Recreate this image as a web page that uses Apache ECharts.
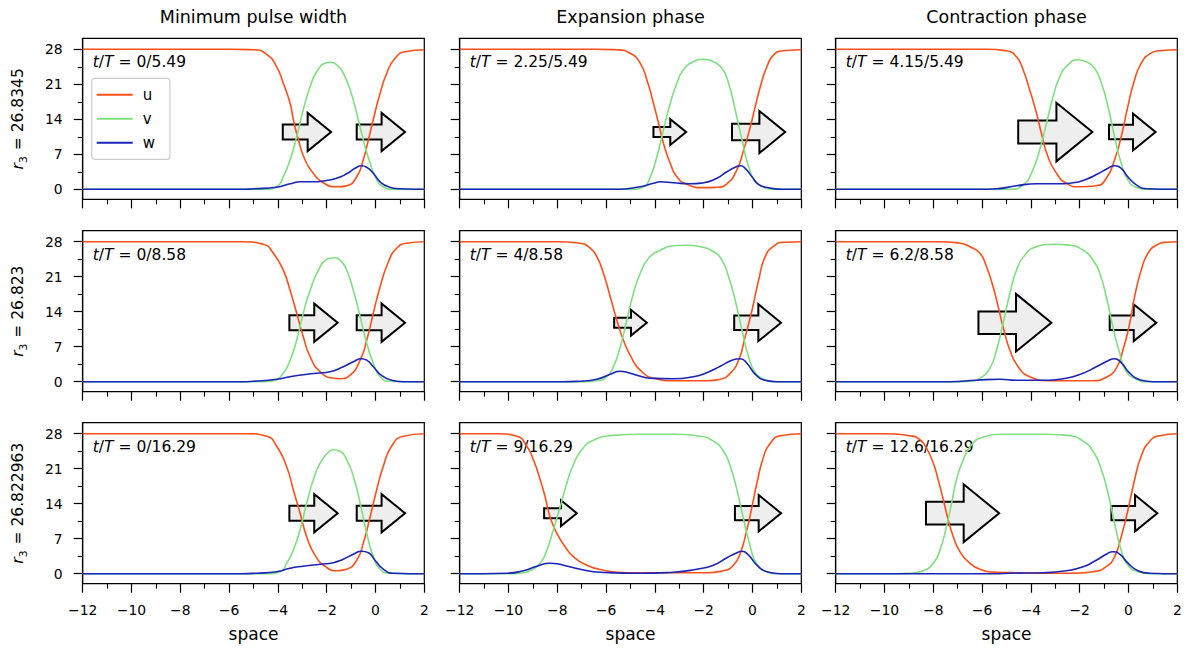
<!DOCTYPE html>
<html>
<head>
<meta charset="utf-8">
<script src="https://cdn.jsdelivr.net/npm/echarts@6/dist/echarts.min.js"></script>
<style>
  html, body { margin: 0; padding: 0; background: #ffffff; }
  #chart { width: 1193px; height: 652px; }
</style>
</head>
<body>
<div id="chart"></div>
<script>
// ---- Profiles of u, v, w along space, one panel per (r3, phase) ----
const colTitles = ['Minimum pulse width', 'Expansion phase', 'Contraction phase'];
const rowR3 = ['26.8345', '26.823', '26.822963'];
const timeLabels = ['0/5.49', '2.25/5.49', '4.15/5.49', '0/8.58', '4/8.58', '6.2/8.58', '0/16.29', '9/16.29', '12.6/16.29'];
const xTicks = [-12, 2, 2];            // min, max, step of the space axis
const yMajorTicks = [0, 7, 14, 21, 28];
const yMinorTicks = [3.5, 10.5, 17.5, 24.5];

// Row 1: r3 = 26.8345
const u11 = [[-12,28],[-6,28],[-5,27.9],[-4.46,27.0],[-4.05,24.5],[-3.78,21.2],[-3.5,17.2],[-3.37,14],[-3.16,9.9],[-2.89,5.9],[-2.55,3.2],[-2.14,1.3],[-1.59,0.5],[-1.18,0.7],[-0.77,2.5],[-0.5,5.9],[-0.29,9.9],[-0.09,14],[0.19,19.2],[0.46,23.2],[0.8,26.2],[1.21,27.5],[2,27.9]];
const v11 = [[-12,0],[-4.5,0],[-4.05,0.5],[-3.78,2.5],[-3.5,5.9],[-3.23,10.5],[-2.96,15.9],[-2.68,20.5],[-2.41,23.5],[-2.07,25.2],[-1.86,25.4],[-1.59,24.9],[-1.32,23.2],[-1.04,19.9],[-0.77,15.2],[-0.5,9.9],[-0.22,5.2],[0.05,1.9],[0.32,0.5],[0.73,0],[2,0]];
const w11 = [[-12,0],[-5.5,0],[-5,0.1],[-4.05,0.4],[-3.5,1.1],[-3.09,1.5],[-2.55,1.5],[-2.07,1.7],[-1.59,2.2],[-1.18,3.1],[-0.84,4.2],[-0.57,4.7],[-0.36,4.4],[-0.09,3.2],[0.19,1.5],[0.53,0.5],[1.0,0.1],[2,0]];

const u12 = [[-12,28],[-6.5,28],[-5.56,27.9],[-5.01,27.2],[-4.6,25.2],[-4.33,21.9],[-4.06,17.2],[-3.85,13.2],[-3.65,9.2],[-3.37,5.2],[-3.1,2.5],[-2.69,1.0],[-2.0,0.33],[-1.46,0.4],[-1.05,1.1],[-0.64,3.9],[-0.36,7.9],[-0.09,12.5],[0.11,16.5],[0.32,20.5],[0.59,24.5],[0.87,26.9],[1.28,27.7],[2,27.9]];
const v12 = [[-12,0],[-5,0],[-4.47,0.5],[-4.19,2.5],[-3.92,6.5],[-3.65,11.9],[-3.37,17.2],[-3.1,21.2],[-2.83,23.9],[-2.42,25.5],[-2.0,26.0],[-1.6,25.5],[-1.25,24.2],[-0.98,21.2],[-0.71,15.9],[-0.43,9.9],[-0.16,4.5],[0.11,1.5],[0.46,0.4],[0.87,0],[2,0]];
const w12 = [[-12,0],[-5.6,0],[-4.6,0.5],[-4.06,1.2],[-3.78,1.5],[-3.24,1.3],[-2.55,1.1],[-2.0,1.3],[-1.46,2.2],[-1.05,3.5],[-0.71,4.4],[-0.5,4.7],[-0.3,4.2],[-0.02,2.5],[0.25,1.0],[0.66,0.3],[1.28,0],[2,0]];

const u13 = [[-12,28],[-5.8,28],[-5.0,27.7],[-4.59,26.5],[-4.32,23.9],[-4.05,19.9],[-3.77,15.2],[-3.57,11.2],[-3.3,6.5],[-2.95,3.2],[-2.55,1.2],[-2.0,0.5],[-1.32,0.7],[-0.91,2.2],[-0.57,5.9],[-0.3,10.5],[-0.03,16.5],[0.25,21.9],[0.52,25.2],[0.87,27.1],[1.27,27.7],[2,27.9]];
const v13 = [[-12,0],[-4.8,0],[-4.32,0.9],[-3.98,3.2],[-3.64,7.9],[-3.36,13.2],[-3.09,18.5],[-2.82,22.5],[-2.48,24.9],[-2.07,25.9],[-1.73,25.5],[-1.39,24.2],[-1.11,21.2],[-0.84,16.5],[-0.57,10.5],[-0.3,5.2],[-0.03,1.9],[0.32,0.4],[0.73,0],[2,0]];
const w13 = [[-12,0],[-6,0],[-5.41,0.1],[-4.59,0.7],[-3.77,1.1],[-2.95,1.1],[-2.27,1.3],[-1.73,2.0],[-1.25,3.1],[-0.84,4.2],[-0.57,4.7],[-0.3,4.2],[-0.03,2.5],[0.32,0.9],[0.73,0.1],[2,0]];

// Row 2: r3 = 26.823
const u21 = [[-12,28],[-5.5,28],[-4.6,27.5],[-4.19,25.7],[-3.78,22.3],[-3.5,18.3],[-3.23,13.7],[-2.96,9.0],[-2.68,5.0],[-2.27,2.0],[-1.73,0.7],[-1.45,0.6],[-1.04,1.3],[-0.63,4.3],[-0.36,8.3],[-0.09,13.7],[0.19,19.0],[0.53,24.0],[0.87,26.7],[1.28,27.7],[2,28]];
const v21 = [[-12,0],[-4.6,0],[-4.19,0.2],[-3.78,1.7],[-3.5,4.3],[-3.23,8.3],[-2.96,13.7],[-2.68,18.3],[-2.34,22.3],[-2.0,24.5],[-1.73,24.8],[-1.45,24.3],[-1.18,22.3],[-0.91,18.3],[-0.63,13],[-0.36,7.7],[-0.09,3.7],[0.19,1.0],[0.6,0.1],[2,0]];
const w21 = [[-12,0],[-5.5,0],[-5.0,0.1],[-4.05,0.5],[-3.5,1.0],[-2.96,1.4],[-2.41,1.7],[-1.86,2.0],[-1.32,3.0],[-0.91,4.0],[-0.57,4.6],[-0.36,4.3],[-0.09,3.0],[0.26,1.2],[0.67,0.3],[1.14,0],[2,0]];

const u22 = [[-12,28],[-8,28],[-7.06,27.7],[-6.65,26.7],[-6.38,25],[-6.11,21.7],[-5.83,17],[-5.56,12.3],[-5.29,8.3],[-4.95,4.7],[-4.6,2.3],[-4.06,0.7],[-3.24,0.2],[-1.87,0.2],[-1.32,0.5],[-0.91,1.7],[-0.57,4.3],[-0.3,9.0],[-0.02,14.3],[0.25,20.3],[0.52,25],[0.87,27.1],[1.28,27.9],[2,28]];
const v22 = [[-12,0],[-7,0],[-6.38,0.2],[-5.97,1.0],[-5.7,3.0],[-5.42,7.0],[-5.15,12.3],[-4.88,17.7],[-4.6,21.7],[-4.26,24.7],[-3.78,26.3],[-3.24,27.2],[-2.69,27.3],[-2.14,27.0],[-1.6,26],[-1.25,24.3],[-0.98,21],[-0.71,16.3],[-0.43,10.3],[-0.16,5],[0.11,1.8],[0.46,0.5],[0.87,0],[2,0]];
const w22 = [[-12,0],[-7.8,0],[-7.06,0.1],[-6.38,0.5],[-5.83,1.5],[-5.42,2.1],[-5.15,1.9],[-4.74,1.3],[-4.19,0.7],[-3.24,0.6],[-2.42,1.0],[-1.87,1.8],[-1.32,3.1],[-0.84,4.3],[-0.5,4.6],[-0.23,3.7],[0.11,1.5],[0.52,0.3],[1.0,0],[2,0]];

const u23 = [[-12,28],[-7.8,28],[-6.91,27.7],[-6.5,27],[-6.09,25.7],[-5.82,23],[-5.55,19],[-5.34,15],[-5.14,11],[-4.86,6.3],[-4.52,3.0],[-4.05,1.0],[-3.23,0.2],[-1.45,0.2],[-0.91,0.9],[-0.5,2.7],[-0.23,6.3],[0.05,11.7],[0.25,17],[0.52,22.3],[0.8,25.7],[1.14,27.3],[1.55,27.9],[2,28]];
const v23 = [[-12,0],[-7,0],[-6.5,0.1],[-6.09,0.7],[-5.68,2.7],[-5.41,6.3],[-5.14,11.7],[-4.86,17.7],[-4.59,22.3],[-4.25,25.3],[-3.77,27],[-3.09,27.5],[-2.41,27.3],[-1.86,26.3],[-1.45,24.3],[-1.18,21.7],[-0.91,17],[-0.64,11],[-0.36,5.7],[-0.09,2.0],[0.32,0.5],[0.73,0],[2,0]];
const w23 = [[-12,0],[-7.32,0],[-6.23,0.3],[-5.27,0.5],[-4.59,0.3],[-3.5,0.3],[-2.55,0.7],[-1.86,1.7],[-1.32,3.0],[-0.84,4.2],[-0.57,4.6],[-0.3,3.8],[0.05,1.7],[0.46,0.4],[1.0,0],[2,0]];

// Row 3: r3 = 26.822963
const u31 = [[-12,28],[-5.3,28],[-4.46,27.5],[-4.05,25.5],[-3.64,21.4],[-3.37,16.8],[-3.09,12.1],[-2.82,7.4],[-2.48,3.7],[-2.07,1.5],[-1.59,0.6],[-1.18,0.9],[-0.77,2.7],[-0.5,6.1],[-0.22,11.4],[0.05,16.8],[0.32,21.5],[0.66,25.5],[1.14,27.5],[2,28]];
const v31 = [[-12,0],[-4.4,0],[-3.91,0.4],[-3.64,2.1],[-3.37,4.7],[-3.09,8.8],[-2.82,14.1],[-2.55,18.8],[-2.27,22.1],[-1.93,24.3],[-1.73,24.8],[-1.45,24.5],[-1.18,22.8],[-0.91,19.5],[-0.63,14.1],[-0.36,8.1],[-0.09,3.4],[0.19,0.9],[0.6,0.1],[2,0]];
const w31 = [[-12,0],[-5.5,0],[-4.87,0.1],[-4.05,0.4],[-3.5,1.1],[-2.96,1.5],[-2.27,1.9],[-1.73,2.2],[-1.32,2.9],[-0.91,3.9],[-0.57,4.5],[-0.29,4.2],[-0.02,2.7],[0.32,0.9],[0.73,0.1],[2,0]];

const u32 = [[-12,28],[-10.5,28],[-9.66,27.5],[-9.25,25.5],[-8.98,22.8],[-8.7,18.8],[-8.5,15.4],[-8.3,11.4],[-8.02,8.1],[-7.68,5.4],[-7.34,3.4],[-6.79,1.7],[-6.11,0.7],[-5.15,0.2],[-1.87,0.2],[-1.19,0.6],[-0.78,1.7],[-0.5,4.1],[-0.23,8.8],[-0.02,13.4],[0.18,18.1],[0.46,23.5],[0.73,26.1],[1.14,27.6],[2,28]];
const v32 = [[-12,0],[-10,0],[-9.53,0.1],[-9.12,0.6],[-8.7,2.1],[-8.43,4.7],[-8.16,8.8],[-7.88,13.4],[-7.61,18.1],[-7.34,21.8],[-7.0,24.8],[-6.52,26.7],[-5.83,27.6],[-4.6,27.9],[-3.24,27.9],[-2.14,27.5],[-1.6,26.5],[-1.19,24.5],[-0.91,21.5],[-0.64,16.8],[-0.36,10.8],[-0.09,5.4],[0.18,1.9],[0.59,0.4],[1.0,0],[2,0]];
const w32 = [[-12,0],[-10.07,0.1],[-9.39,0.6],[-8.84,1.5],[-8.3,2.1],[-7.75,1.7],[-7.06,0.9],[-6.24,0.3],[-4.6,0.1],[-3.24,0.3],[-2.28,0.9],[-1.6,1.7],[-1.05,3.2],[-0.64,4.2],[-0.43,4.5],[-0.16,3.7],[0.18,1.7],[0.59,0.4],[1.14,0],[2,0]];

const u33 = [[-12,28],[-10,28],[-8.96,27.6],[-8.55,26.8],[-8.28,25.1],[-8.0,22.1],[-7.8,18.8],[-7.59,14.8],[-7.39,10.8],[-7.18,7.4],[-6.91,4.4],[-6.57,2.4],[-6.09,0.9],[-5.41,0.3],[-2.41,0.1],[-1.45,0.4],[-0.91,1.4],[-0.57,3.4],[-0.3,7.4],[-0.02,12.8],[0.25,18.8],[0.52,23.5],[0.87,26.5],[1.27,27.6],[2,28]];
const v33 = [[-12,0],[-9.5,0],[-8.96,0.1],[-8.41,0.6],[-8.0,2.1],[-7.73,4.7],[-7.46,9.4],[-7.25,14.1],[-7.05,18.8],[-6.77,22.8],[-6.43,25.8],[-5.96,27.3],[-5.14,27.9],[-3.5,27.9],[-2.41,27.6],[-1.86,26.5],[-1.45,24.5],[-1.11,20.8],[-0.84,16.1],[-0.57,10.1],[-0.3,4.7],[-0.02,1.7],[0.39,0.4],[0.87,0],[2,0]];
const w33 = [[-12,0],[-5.5,0],[-4.86,0.1],[-3.5,0.2],[-2.55,0.6],[-1.86,1.4],[-1.32,2.7],[-0.91,3.9],[-0.64,4.4],[-0.36,3.9],[-0.02,2.1],[0.39,0.6],[0.87,0.1],[2,0]];

// Front-speed arrows: tail position and length (space units) for each panel, and level per row
const arrowTail = [[-3.8,-0.77],[-4.06,-0.84],[-4.52,-0.8],[-3.53,-0.77],[-5.67,-0.75],[-6.15,-0.77],[-3.53,-0.77],[-8.54,-0.72],[-8.3,-0.7]];
const arrowLen  = [[1.98,1.98],[1.34,2.18],[3.04,1.91],[1.98,1.98],[1.34,1.92],[2.99,1.91],[1.98,1.98],[1.34,1.89],[3.0,1.88]];
const arrowLevel = [11.45, 11.8, 12.1];

const uSets = [u11, u12, u13, u21, u22, u23, u31, u32, u33];
const vSets = [v11, v12, v13, v21, v22, v23, v31, v32, v33];
const wSets = [w11, w12, w13, w21, w22, w23, w31, w32, w33];

// ---- Layout and style ----
const FONT = 'DejaVu Sans';
const colLeft = [82.7, 459.7, 835.7];
const plotW = 341.6;
const rowTop = [38.3, 230.7, 422.7];
const plotH = 161;
const Y_MIN = -2, Y_MAX = 30.2;
const COLORS = { u: '#ff4f17', v: '#7ee07e', w: '#1a24b8' };
const black = '#000000';

const minusFmt = v => (v < 0 ? '\u2212' + Math.abs(v) : String(v));

const grids = [], xAxes = [], yAxes = [], series = [], graphics = [];

for (let r = 0; r < 3; r++) {
  for (let c = 0; c < 3; c++) {
    const i = r * 3 + c;
    grids.push({
      left: colLeft[c], top: rowTop[r], width: plotW, height: plotH,
      show: true, borderColor: black, borderWidth: 1.2, backgroundColor: 'transparent',
      containLabel: false, outerBoundsMode: 'none'
    });
    xAxes.push({
      gridIndex: i, type: 'value', min: xTicks[0], max: xTicks[1], interval: xTicks[2],
      axisLine: { show: true, onZero: false, lineStyle: { color: black, width: 1.2 } },
      axisTick: { show: true, length: 9, lineStyle: { color: black, width: 1.2 } },
      minorTick: { show: true, splitNumber: 2, length: 5, lineStyle: { color: black, width: 1.1 } },
      splitLine: { show: false }, minorSplitLine: { show: false },
      axisLabel: { show: r === 2, color: black, fontSize: 13.9, fontFamily: FONT, margin: 19,
        formatter: minusFmt, showMinLabel: true, showMaxLabel: true, hideOverlap: false },
      name: r === 2 ? 'space' : '', nameLocation: 'middle', nameGap: 42,
      nameTextStyle: { color: black, fontSize: 17, fontFamily: FONT }
    });
    // main y axis with labelled ticks
    yAxes.push({
      gridIndex: i, type: 'value', min: Y_MIN, max: Y_MAX, position: 'left',
      axisLine: { show: true, onZero: false, lineStyle: { color: black, width: 1.2 } },
      axisTick: { show: true, length: 9, customValues: yMajorTicks, lineStyle: { color: black, width: 1.2 } },
      splitLine: { show: false },
      axisLabel: { show: c === 0, customValues: yMajorTicks, color: black, fontSize: 13.9, fontFamily: FONT, margin: 20 },
      name: c === 0 ? `{i|r}{s|3} = ${rowR3[r]}` : '',
      nameLocation: 'middle', nameRotate: 90, nameGap: 57,
      nameTextStyle: {
        color: black, fontSize: 15.5, fontFamily: FONT,
        rich: {
          i: { fontStyle: 'italic', fontSize: 15.5, fontFamily: FONT, color: black },
          s: { fontSize: 10.8, fontFamily: FONT, color: black, verticalAlign: 'bottom', padding: [0, 1, -3, 0] }
        }
      }
    });
    // companion y axis carrying only the minor ticks
    yAxes.push({
      gridIndex: i, type: 'value', min: Y_MIN, max: Y_MAX, position: 'left', offset: 0,
      axisLine: { show: false, onZero: false },
      axisTick: { show: true, length: 5, customValues: yMinorTicks, lineStyle: { color: black, width: 1.1 } },
      axisLabel: { show: false }, splitLine: { show: false }
    });

    // arrows (drawn under the profiles)
    series.push({
      type: 'custom', xAxisIndex: i, yAxisIndex: 2 * i, z: 2, silent: true,
      data: arrowTail[i].map((x0, k) => [x0, arrowLevel[r], arrowLen[i][k]]),
      renderItem: function (params, api) {
        const x0 = api.value(0), y = api.value(1), len = api.value(2);
        const a = api.coord([x0, y]);
        const b = api.coord([x0 + len, y]);
        const L = b[0] - a[0];
        const tw = 0.155 * L, hw = 0.395 * L, hl = 0.485 * L;
        const hx = b[0] - hl;
        const pts = [
          [a[0], a[1] - tw], [hx, a[1] - tw], [hx, a[1] - hw], [b[0], a[1]],
          [hx, a[1] + hw], [hx, a[1] + tw], [a[0], a[1] + tw]
        ];
        return {
          type: 'polygon', shape: { points: pts },
          style: { fill: '#eeeeee', stroke: black, lineWidth: 2, lineJoin: 'miter' }
        };
      }
    });

    [['u', uSets[i]], ['v', vSets[i]], ['w', wSets[i]]].forEach(([name, data], k) => {
      series.push({
        type: 'line', name: name, xAxisIndex: i, yAxisIndex: 2 * i, data: data,
        showSymbol: false, symbol: 'none', smooth: 0.55,
        z: 3 + k, silent: true,
        lineStyle: { color: COLORS[name], width: 1.6 },
        itemStyle: { color: COLORS[name] }
      });
    });

    // time stamp inside each panel
    graphics.push({
      type: 'text', x: colLeft[c] + 10, y: rowTop[r] + 24,
      style: {
        text: `{i|t}/{i|T}{e|=}${timeLabels[i]}`,
        fontSize: 15.5, fontFamily: FONT, fill: black, align: 'left', verticalAlign: 'middle',
        rich: {
          i: { fontStyle: 'italic', fontSize: 15.5, fontFamily: FONT, fill: black },
          e: { fontSize: 15.5, fontFamily: FONT, fill: black, padding: [0, 5, 0, 5] }
        }
      }
    });
  }
}

colTitles.forEach((t, c) => {
  graphics.push({
    type: 'text', x: colLeft[c] + plotW / 2, y: 17,
    style: { text: t, fontSize: 17.5, fontFamily: FONT, fill: black, align: 'center', verticalAlign: 'middle' }
  });
});

const chart = echarts.init(document.getElementById('chart'), null, { renderer: 'svg' });
chart.setOption({
  animation: false,
  backgroundColor: '#ffffff',
  grid: grids,
  xAxis: xAxes,
  yAxis: yAxes,
  legend: {
    data: ['u', 'v', 'w'], orient: 'vertical', left: 91.7, top: 78.3,
    icon: 'rect', itemWidth: 36, itemHeight: 2, itemGap: 9,
    padding: [9, 15, 9, 5],
    borderColor: '#cccccc', borderWidth: 1.2, borderRadius: 3,
    backgroundColor: 'rgba(255,255,255,0.8)',
    textStyle: { color: black, fontSize: 15, fontFamily: FONT, padding: [0, 0, 0, 5] },
    selectedMode: false
  },
  graphic: graphics,
  series: series
});
</script>
</body>
</html>
